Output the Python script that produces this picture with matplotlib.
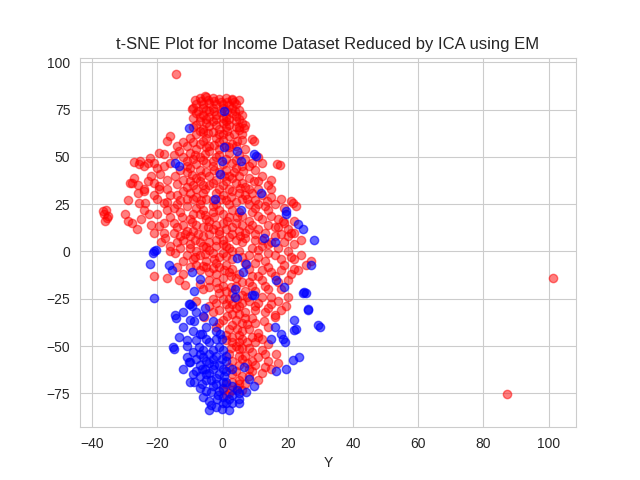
import matplotlib
matplotlib.use("Agg")
import matplotlib.pyplot as plt
import seaborn as sns
import numpy as np

# t-SNE coordinates, class 1 (red)
red_pts = [
    # top cluster
    (-7, 81), (-5, 81.5), (-3, 81), (-1, 80.5), (1, 81), (3, 80.5), (5, 80), (-5.5, 82.4), (2.8, 80),
    (-8, 78), (-6, 78), (-4, 78.5), (-2, 78), (0, 78), (2, 77.5), (4, 78), (-9.5, 75.5), (-9, 76),
    (-6, 76), (-3, 76), (0, 76), (3, 76), (3.7, 74.5), (-8, 73), (-6, 72), (-4, 74), (-2, 72), (1, 71),
    (3, 73), (5, 70), (-7, 69), (-5, 68), (-3, 69), (0, 68), (2, 67), (4, 66), (6, 68), (6.7, 65.5),
    (-9, 66), (-6, 65), (-1, 65), (1, 69), (4, 69), (-4, 71),
    (-8.5, 80), (-6.5, 79.5), (-4.5, 80), (-2.5, 79.5), (-0.5, 79), (1.5, 79), (3.5, 79), (-7.5, 74.5),
    (-5, 75), (-2.5, 74.5), (-0.5, 73.5), (1.5, 74), (5, 75), (-9, 70.5), (-7, 71), (-5, 70), (-2, 70),
    (0, 70.5), (2, 70), (4, 71.5), (6, 72), (-8, 67), (-4, 66.5), (-2, 67), (1, 66), (5, 66), (7, 67),
    (-7, 63.5), (-4.5, 62.5), (-1, 62), (1.5, 63.5), (3.5, 62), (5, 64),
    (-8, 62), (-5, 60), (-3, 63), (-1, 58), (2, 61), (4.3, 58.5), (8.9, 59.6), (9.5, 58.5), (-7, 57),
    (-10, 60), (-4, 56), (1, 56), (6, 62), (-16, 61), (-17, 58.5), (-12, 58), (-13.2, 53), (0, 62),
    (-2, 60), (-6, 63), (-9, 58), (-6, 58.5), (-2.5, 56.5), (0, 59), (3, 57), (6, 59), (-11, 56),
    (-8, 54), (-5, 55), (-1, 54), (2, 55), (4, 55.5), (7, 54), (-14, 56), (-12, 50),
    # left arm
    (-19.6, 52), (-25.4, 48), (-25.7, 46), (-22.3, 49.5), (-18, 51.6), (-20, 44), (-27, 47.5),
    (-23, 47), (-15, 51), (-16, 47), (-19.3, 41), (-27.2, 39), (-28.4, 36), (-24, 33), (-19.6, 34.6),
    (-14.7, 40), (-14, 35.6), (-17, 38), (-22, 40), (-27.8, 36), (-24, 32), (-19.6, 33), (-25.7, 25.5),
    (-23.9, 25.5), (-18, 25.5), (-15, 23), (-16, 30), (-21, 30), (-29, 27), (-24, 22), (-30, 20),
    (-29, 16), (-36.4, 20), (-35.5, 17.6), (-36, 16), (-35.2, 19), (-36.8, 21.5), (-35.8, 22),
    (-22.6, 19.7), (-19.6, 13.3), (-27.8, 15), (-26.3, 12), (-21, 9.6), (-17.7, 7), (-19, 5),
    (-26, 31), (-21, 36), (-18, 45), (-21, 47), (-24, 45), (-17, 33), (-13, 43), (-11, 45), (-23, 37),
    (-26, 35), (-20, 28), (-17, 26), (-22, 14), (-25, 17), (-20, 20), (-18, 10), (-16, 0), (-14, 5),
    # main body
    (-10, 52), (-7, 50), (-4, 53), (-2, 50), (2, 52), (5, 51), (7, 49), (-8, 46), (-5, 47), (-11, 48),
    (16.8, 46), (17.5, 45.5), (12, 47), (8, 45), (-11, 42), (-8, 39), (-5, 42), (-2, 38), (1, 43),
    (3, 39), (6.4, 42.5), (9.8, 37), (12, 40), (-10, 37), (-6, 35), (0, 35), (4, 36), (7, 34), (15, 38),
    (-12, 32), (-9, 28), (-6, 31), (-3, 27), (0, 30), (3, 32), (6, 28), (9, 31), (13.5, 26.6), (15, 29),
    (21, 26.6), (22.6, 24), (21.7, 25.5), (-13, 27), (-7, 25), (2, 25), (8, 25), (11, 33), (18, 28),
    (-3, 45), (-1, 33), (4, 44), (-8, 33), (5, 31), (10, 43),
    (-9, 49), (-6, 48.5), (-3, 48), (0, 46), (3, 47), (6, 45), (9, 47), (11, 50), (-10, 44), (-7, 43),
    (-4, 40), (-1, 42), (2, 40), (5, 40), (8, 39), (11, 37), (14, 35), (-12, 38), (-9, 35), (-7, 37.5),
    (-4, 35), (-2, 31), (1, 37), (2, 33), (6, 36), (8, 33), (12, 30), (15, 33), (-14, 30), (-11, 28),
    (-8, 29), (-5, 28), (-2, 25), (1, 27), (4, 26), (7, 30), (10, 27), (13, 24), (16, 25), (19, 23),
    (-8.5, 51), (-5.5, 51.5), (-1, 51), (1, 49), (4, 48.5), (-9.5, 40.5), (-6.5, 40), (-2.5, 43),
    (0.5, 40), (3.5, 42), (-11, 34), (-5.5, 33), (-3, 36), (-0.5, 28), (2.5, 29), (5.5, 33.5),
    (-6.5, 27), (-10, 31), (7.5, 27.5), (11, 25),
    (-16, 18), (-13, 21), (-10, 17), (-7, 20), (-4, 16), (-1, 22), (2, 18), (5, 21), (8, 16), (11, 19),
    (14, 22), (17, 17), (19, 15), (20, 12), (22, 16), (-12, 14), (-8, 23), (0, 15), (6, 14), (-3, 21),
    (3, 13), (10, 23), (-6, 13), (18.6, 16), (21, 10),
    (-17, 22), (-14, 25), (-11, 24), (-9, 20), (-6, 22), (-3, 24), (0, 20), (3, 22), (6, 19), (9, 21),
    (12, 17), (15, 19), (17, 13), (-18, 15), (-15, 15), (-11, 11), (-8, 14), (-5, 17), (-2, 14), (1, 12),
    (4, 15), (7, 10), (9, 14), (11, 12), (14, 14),
    (-12.5, 18), (-9.5, 15.5), (-5.5, 19.5), (-2.5, 18), (1.5, 16), (4.5, 18), (-7.5, 9.5), (-4.5, 13),
    (-1, 11), (2, 7.5), (5.5, 8), (-11.5, 9), (-8.5, 6), (-5, 2.5), (-2, 3),
    (-15, 10), (-12, 6), (-9, 11), (-6, 8), (-3, 12), (0, 6), (3, 9), (4.9, 10.6), (8, 12), (10, 6),
    (13, 10), (16, 13), (18, 9), (20, 8), (22, 10), (24, 6), (-14, 13), (-10, 4), (-4, 5), (6, 5),
    (15, 5), (-1, 9), (-13, 8), (-10, 8), (-7, 5), (-4, 9), (-2, 6), (1, 3), (4, 6), (7, 7), (10, 9),
    (12, 6), (14, 4), (16, 8), (19, 5), (22, 4),
    (-14.7, -1), (-12, -5), (-10, 2), (-7, -2), (-4, 1), (-1, -3), (2, 2), (5, 0), (8, -2), (11, 1),
    (14, -1), (17, 2), (20, 0), (24, -1.6), (22, -4), (25.7, -7), (27, -5), (-9, -4), (0, 4), (12, 3),
    (18, -4), (-16, 3), (-5, -5), (3, -4), (-13, 2), (-11, -2), (-8, 0), (-6, 3), (-3, -1), (0, -1),
    (3, 0), (6, -3), (9, 2), (11, -3), (13, -5), (16, -2), (19, -7), (21, -3),
    (-8.5, -3), (-5.5, -1.5), (-2.5, -4), (1, -2.5), (-6, -7.5), (-3, -8.5), (0.5, -10), (2.5, -13),
    (-21, -13), (-13.5, -15), (-11.6, -17.5), (-5, -8), (-2, -12), (1, -7), (4, -14), (8, -9),
    (11, -13), (14, -8), (18, -10), (21, -11.7), (22, -9), (-4, -15), (2, -11), (10, -6), (16, -13),
    (-8, -7), (12, -15), (-1, -8), (6, -16), (23, -10), (-10, -8), (-7, -10), (-4, -11), (-2, -6),
    (0, -14), (3, -9), (5, -12), (7, -6), (9, -13), (12, -10), (15, -11), (17, -16), (20, -15),
    (-14, -8), (-17, -14), (-12, -12),
    # lower part
    (-6, -20), (-3, -25), (0, -18), (3, -22), (6, -27), (9, -18), (12, -24), (14, -20), (17, -26),
    (19.6, -29), (16, -33.5), (1, -28), (-4, -29), (7, -21), (10, -29), (-1, -22), (20, -24),
    (-7, -17), (-4, -19), (-2, -16), (1, -21), (4, -18), (6, -23), (8, -16), (10, -21), (13, -18),
    (15, -24), (18, -20), (-8, -26), (-2, -27), (2, -25), (5, -29), (8, -26), (11, -27), (13, -32),
    (15, -28), (18, -31), (-1.5, -19.5), (2.5, -19), (4.5, -25), (0, -25), (7.5, -24), (3, -27.5),
    (-5.8, -34.6), (-3, -32), (0, -36), (3, -33), (6, -38), (9, -35), (12.8, -37), (16, -34.6),
    (2, -41), (5, -44), (8, -41), (11, -43), (-2, -40), (14, -30), (4, -30), (10, -31), (7, -32),
    (-1, -31), (2, -30), (4, -36), (7, -35), (10, -38), (14, -40), (-1, -38), (1, -44), (3, -45),
    (6, -42), (9, -45), (12, -46), (1.5, -34), (5, -33), (3, -39), (7.5, -38.5), (4.5, -41),
    (1, -47), (4, -50), (4.9, -51.6), (7, -55), (10, -48), (12, -52), (16.5, -54), (14, -58), (2, -54),
    (9, -58), (5, -60), (11, -45), (6, -46), (14, -49), (17, -59), (8, -51), (3, -48), (6, -51),
    (9, -53), (11, -56), (13, -54), (3, -58), (6, -57), (8, -62), (10, -60), (12, -64), (15, -62),
    (5, -48), (7.5, -48), (2.5, -51), (5, -55), (7.5, -59),
    (4.3, -72), (2, -75), (2.8, -73), (6, -66), (9, -63), (11, -68), (13, -61), (3, -65), (7, -70),
    (1, -70), (0, -73), (2, -61), (4, -63), (5, -68), (8, -66), (3, -69), (6, -73), (1, -76), (5, -70),
    # outliers
    (-14.4, 93.6), (101.5, -13.8), (87.2, -75.5),
]

# class 0 (blue)
blue_pts = [
    (-10.4, 65.5), (0.3, 74.5), (0.6, 55), (4.3, 53), (9.8, 51.6), (10.3, 50.5), (5.8, 48), (-0.3, 48),
    (-0.9, 41), (-14.7, 47), (-13.2, 45),
    (-2.4, 28), (11.9, 31), (5.8, 22), (19.6, 20), (19.6, 21.3), (24.8, 11.7), (28, 6), (12.8, 7),
    (16, 4.8), (23.2, 14.4),
    (4.3, -3.7), (7.3, -6.4), (6.4, -10.6), (27.2, -7), (16.5, -15), (19, -18.6), (25, -21.3),
    (25.6, -22), (9.5, -23), (3.7, -19.7), (26.3, -30.5),
    (-21, 0), (-21.2, -1), (-20.5, 1), (-22.3, -6.4), (-21, -24.5), (-16.5, -7), (-15.6, -10),
    (-9.5, -11), (-7, -14.4), (-8.9, -21), (-10, -28), (-5.5, -30), (-10.4, -27.7),
    (-14.7, -33.5), (-14.3, -35), (-13.2, -45), (-15, -51.5), (-15.3, -50.5), (-8.6, -37), (-7, -43.6),
    (-9.5, -29), (-7.3, -50.5), (-10, -58.5), (-8, -57), (-6.4, -62), (-8.6, -69), (-6.4, -70),
    (-3.4, -74.5), (-1.8, -78), (-0.3, -83.5), (2.1, -84), (4.9, -80), (-4.3, -54), (-1.2, -50.5),
    (-0.3, -57), (-0.9, -43.6), (2.8, -62), (4.3, -73), (-3.4, -68), (1.2, -69), (-6.4, -43.6),
    (8, -67.5), (-10, -69), (-10.4, -58.5),
    (-5, -65), (-3, -62), (-1, -65), (1, -63), (-2, -70), (0, -72), (2, -78), (-4, -79), (-2, -82),
    (0, -77), (3, -76), (-5, -74), (-1, -60), (-3, -57), (1, -58), (-6, -56), (-4, -48), (-2, -46),
    (-5, -40), (-3, -37), (-8, -47), (-6, -52), (3, -71), (5, -75), (-7, -66), (-8, -63), (-9, -53),
    (-11, -47), (-12, -40), (-10, -36), (-12, -32),
    (-7, -60), (-4, -59), (-2, -55), (0, -52), (-5, -68), (-3, -71), (-1, -74), (1, -80), (-6, -77),
    (-7, -72), (-9, -65), (-5, -46), (-3, -52), (-9, -42), (-6, -34), (-8, -32), (-11, -56),
    (-12, -62), (3, -80), (0, -80), (-4, -84), (1, -55), (-2, -42), (-11, -50),
    (-4, -64), (-2, -67), (0, -69), (-1.5, -76), (-3.5, -81), (-5.5, -62), (-2.5, -60), (0, -62),
    (-7, -54), (-5, -58),
    (8.9, -23), (24.8, -22), (26.3, -31), (29.4, -39), (29.8, -40), (22, -41.5), (22.6, -41),
    (16, -40), (18.6, -46), (19.2, -48), (23.5, -56), (21.7, -57.5), (19.6, -62), (16.5, -63),
    (15, -46), (3.7, -24), (-0.3, -46), (6.7, -61), (9.5, -71), (7.3, -74.5), (4.9, -78), (22, -36),
    (18, -43.6), (0.5, -66),
]

sns.set_style("whitegrid")
plt.rcParams['font.family'] = ['Liberation Sans', 'DejaVu Sans']

red = np.array(red_pts)
blue = np.array(blue_pts)

fig, ax = plt.subplots(figsize=(6.4, 4.8), dpi=100)
ax.scatter(red[:, 0], red[:, 1], c='red', alpha=0.5)
ax.scatter(blue[:, 0], blue[:, 1], c='blue', alpha=0.6)

ax.set_title("t-SNE Plot for Income Dataset Reduced by ICA using EM")
ax.set_xlabel("Y")

plt.savefig('out.png', dpi=100)
